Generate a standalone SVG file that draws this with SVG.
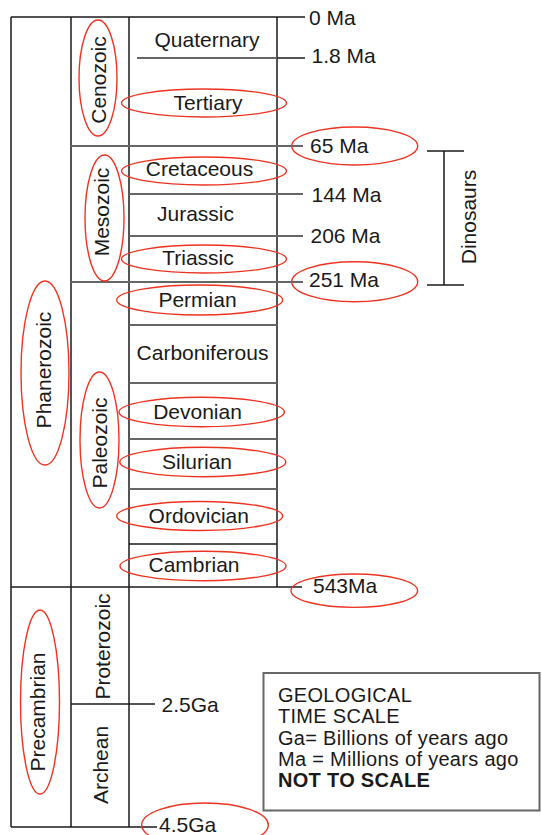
<svg xmlns="http://www.w3.org/2000/svg" width="542" height="835" viewBox="0 0 542 835">
<style>
text{font-family:"Liberation Sans",Arial,sans-serif;font-size:21px;fill:#1a1a1a}
.c{text-anchor:middle}
.b{font-weight:bold}
.lg{font-size:20px;letter-spacing:0.3px}
.ln{stroke:#1a1a1a;stroke-width:1.5;fill:none}
.gl{stroke:#666;stroke-width:2;fill:none}
.ov{fill:none;stroke:#ee3322;stroke-width:1.4}
</style>
<rect width="542" height="835" fill="#fff"/>
<g id="connectors">
<line class="ln" x1="11" y1="17" x2="11" y2="827"/>
<line class="ln" x1="71" y1="17" x2="71" y2="827"/>
<line class="ln" x1="129" y1="17" x2="129" y2="827"/>
<line class="ln" x1="277" y1="17" x2="277" y2="587"/>
<line class="ln" x1="11" y1="17" x2="305" y2="17"/>
<line class="gl" x1="137" y1="58" x2="277" y2="58"/>
<line class="ln" x1="277" y1="58" x2="305" y2="58"/>
<line class="gl" x1="71" y1="146" x2="303" y2="146"/>
<line class="gl" x1="129" y1="194" x2="303" y2="194"/>
<line class="gl" x1="129" y1="236" x2="303" y2="236"/>
<line class="gl" x1="71" y1="282" x2="303" y2="282"/>
<line class="gl" x1="129" y1="325" x2="277" y2="325"/>
<line class="gl" x1="129" y1="383" x2="277" y2="383"/>
<line class="gl" x1="129" y1="439" x2="277" y2="439"/>
<line class="gl" x1="129" y1="489" x2="277" y2="489"/>
<line class="ln" x1="129" y1="544" x2="277" y2="544"/>
<line class="ln" x1="11" y1="587" x2="302" y2="587"/>
<line class="ln" x1="71" y1="704" x2="155" y2="704"/>
<line class="ln" x1="11" y1="827" x2="157" y2="827"/>
<line class="ln" x1="427" y1="151" x2="464" y2="151"/>
<line class="ln" x1="427" y1="285" x2="464" y2="285"/>
<line class="ln" x1="444" y1="151" x2="444" y2="285"/>
</g>
<g id="phanerozoic"><ellipse class="ov" cx="45" cy="373" rx="24" ry="92"/><text class="c" transform="translate(51,370) rotate(-90)">Phanerozoic</text></g>
<g id="precambrian"><ellipse class="ov" cx="40" cy="702" rx="19.5" ry="92"/><text class="c" transform="translate(45,712) rotate(-90)">Precambrian</text></g>
<g id="cenozoic"><ellipse class="ov" cx="98" cy="78" rx="19" ry="58"/><text class="c" transform="translate(105.5,80) rotate(-90)">Cenozoic</text></g>
<g id="mesozoic"><ellipse class="ov" cx="104.5" cy="218" rx="19.5" ry="63"/><text class="c" transform="translate(109,212) rotate(-90)">Mesozoic</text></g>
<g id="paleozoic"><ellipse class="ov" cx="99.5" cy="440" rx="19.5" ry="68"/><text class="c" transform="translate(107,443) rotate(-90)">Paleozoic</text></g>
<g id="proterozoic"><text class="c" transform="translate(109.5,646.5) rotate(-90)">Proterozoic</text></g>
<g id="archean"><text class="c" transform="translate(108,765) rotate(-90)">Archean</text></g>
<g id="quaternary"><text class="c" x="207" y="47">Quaternary</text></g>
<g id="tertiary"><ellipse class="ov" cx="204" cy="103" rx="82.5" ry="14"/><text class="c" x="208" y="110">Tertiary</text></g>
<g id="cretaceous"><ellipse class="ov" cx="204" cy="171" rx="82.5" ry="14"/><text class="c" x="199.5" y="176">Cretaceous</text></g>
<g id="jurassic"><text class="c" x="195.5" y="221">Jurassic</text></g>
<g id="triassic"><ellipse class="ov" cx="204" cy="259" rx="82.5" ry="14"/><text class="c" x="198" y="265">Triassic</text></g>
<g id="permian"><ellipse class="ov" cx="199.7" cy="300" rx="83" ry="15"/><text class="c" x="197.5" y="307">Permian</text></g>
<g id="carboniferous"><text class="c" x="202.5" y="360">Carboniferous</text></g>
<g id="devonian"><ellipse class="ov" cx="201.7" cy="412" rx="82.7" ry="14.7"/><text class="c" x="197.5" y="419">Devonian</text></g>
<g id="silurian"><ellipse class="ov" cx="202.8" cy="462" rx="83" ry="14.7"/><text class="c" x="197" y="469">Silurian</text></g>
<g id="ordovician"><ellipse class="ov" cx="199.7" cy="516" rx="83" ry="14.5"/><text class="c" x="198.8" y="523">Ordovician</text></g>
<g id="cambrian"><ellipse class="ov" cx="203" cy="566" rx="83" ry="14.7"/><text class="c" x="194" y="572">Cambrian</text></g>
<g id="t0"><text x="309" y="25">0 Ma</text></g>
<g id="t18"><text x="311.5" y="63">1.8 Ma</text></g>
<g id="t65"><ellipse class="ov" cx="354.7" cy="146" rx="63" ry="19"/><text x="310" y="153">65 Ma</text></g>
<g id="t144"><text x="311.5" y="202">144 Ma</text></g>
<g id="t206"><text x="310.5" y="243">206 Ma</text></g>
<g id="t251"><ellipse class="ov" cx="354.7" cy="281.7" rx="63" ry="20"/><text x="309" y="287">251 Ma</text></g>
<g id="t543"><ellipse class="ov" cx="354.3" cy="590.7" rx="63.3" ry="16.7"/><text x="313" y="593">543Ma</text></g>
<g id="t25"><text x="161.5" y="711.5">2.5Ga</text></g>
<g id="t45"><ellipse class="ov" cx="205" cy="825" rx="63.3" ry="22"/><text x="159" y="832">4.5Ga</text></g>
<g id="dinosaurs"><text class="c" transform="translate(476,217) rotate(-90)">Dinosaurs</text></g>
<g id="legend">
<rect x="263.5" y="673" width="276" height="137.5" fill="#fff" stroke="#666" stroke-width="2"/>
<text class="lg" x="278" y="701.5">GEOLOGICAL</text>
<text class="lg" x="278" y="723">TIME SCALE</text>
<text class="lg" x="278" y="744.5">Ga= Billions of years ago</text>
<text class="lg" x="278" y="766">Ma = Millions of years ago</text>
<text class="lg b" x="278" y="786.5">NOT TO SCALE</text>
</g>
</svg>
